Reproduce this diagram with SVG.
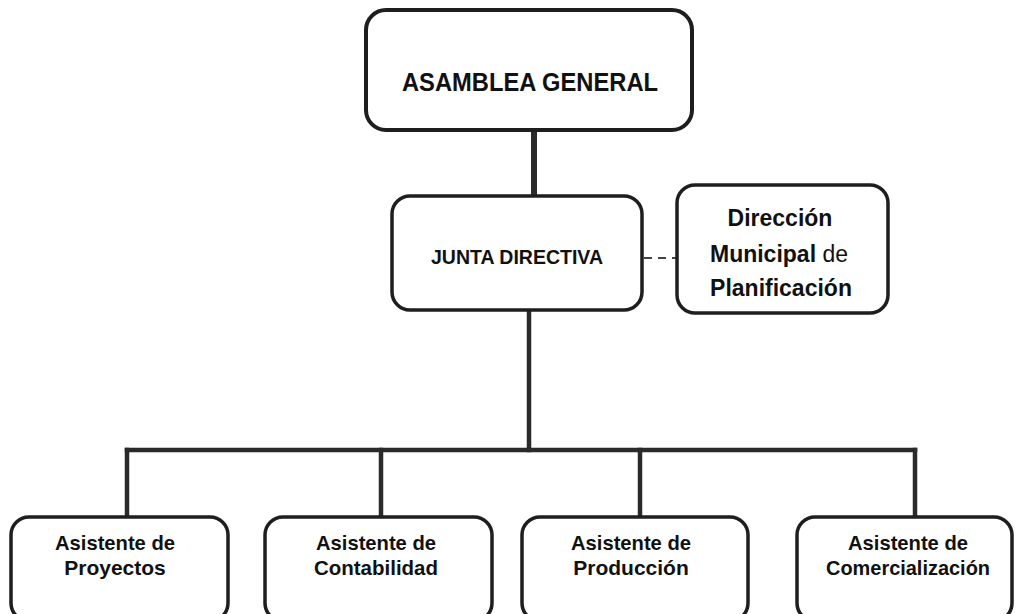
<svg xmlns="http://www.w3.org/2000/svg" width="1016" height="614" viewBox="0 0 1016 614">
<style>
.box{fill:#fff;stroke:#1e1e1e;stroke-width:3.5}
.t{font-family:"Liberation Sans",Arial,sans-serif;font-weight:bold;fill:#111;text-anchor:middle}
.c{stroke:#2a2a2a;fill:none;stroke-width:4.5;stroke-linecap:square}
</style>
<rect width="1016" height="614" fill="#fff"/>
<g id="connectors">
<line class="c" x1="534" y1="130" x2="534" y2="196" style="stroke-width:6"/>
<line class="c" x1="529" y1="310" x2="529" y2="450"/>
<line class="c" x1="127" y1="450" x2="915" y2="450"/>
<line class="c" x1="127" y1="450" x2="127" y2="517"/>
<line class="c" x1="381" y1="450" x2="381" y2="517"/>
<line class="c" x1="640" y1="450" x2="640" y2="517"/>
<line class="c" x1="915" y1="450" x2="915" y2="517"/>
<line x1="644" y1="258" x2="676" y2="258" stroke="#444" stroke-width="2" stroke-dasharray="8 6"/>
</g>
<g id="asamblea">
<rect class="box" x="366" y="10" width="326" height="120" rx="20" style="stroke-width:4"/>
<text class="t" x="530" y="91" font-size="26" textLength="256" lengthAdjust="spacingAndGlyphs">ASAMBLEA GENERAL</text>
</g>
<g id="junta">
<rect class="box" x="392" y="196" width="250" height="114" rx="18"/>
<text class="t" x="517" y="264" font-size="21" textLength="172" lengthAdjust="spacingAndGlyphs">JUNTA DIRECTIVA</text>
</g>
<g id="direccion">
<rect class="box" x="677" y="185" width="211" height="128" rx="18"/>
<text class="t" x="780" y="226" font-size="23">Dirección</text>
<text class="t" x="779" y="262" font-size="23">Municipal <tspan font-weight="normal">de</tspan></text>
<text class="t" x="781" y="296" font-size="23">Planificación</text>
</g>
<g id="proyectos">
<rect class="box" x="11" y="517" width="217" height="104" rx="18"/>
<text class="t" x="115" y="550" font-size="21" textLength="120" lengthAdjust="spacingAndGlyphs">Asistente de</text>
<text class="t" x="115" y="575" font-size="21">Proyectos</text>
</g>
<g id="contabilidad">
<rect class="box" x="265" y="517" width="227" height="104" rx="18"/>
<text class="t" x="376" y="550" font-size="21" textLength="120" lengthAdjust="spacingAndGlyphs">Asistente de</text>
<text class="t" x="376" y="575" font-size="21" textLength="124" lengthAdjust="spacingAndGlyphs">Contabilidad</text>
</g>
<g id="produccion">
<rect class="box" x="522" y="517" width="226" height="104" rx="18"/>
<text class="t" x="631" y="550" font-size="21" textLength="120" lengthAdjust="spacingAndGlyphs">Asistente de</text>
<text class="t" x="631" y="575" font-size="21">Producción</text>
</g>
<g id="comercializacion">
<rect class="box" x="797" y="517" width="215" height="104" rx="18"/>
<text class="t" x="908" y="550" font-size="21" textLength="120" lengthAdjust="spacingAndGlyphs">Asistente de</text>
<text class="t" x="908" y="575" font-size="21" textLength="164" lengthAdjust="spacingAndGlyphs">Comercialización</text>
</g>
</svg>
